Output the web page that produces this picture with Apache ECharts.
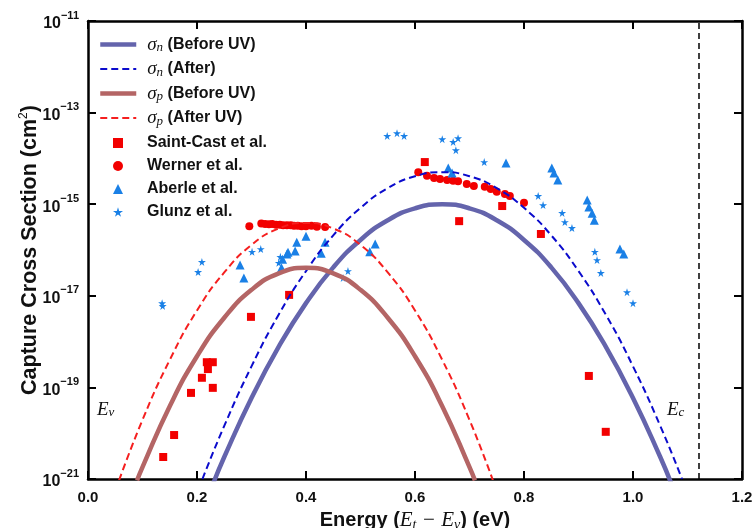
<!DOCTYPE html>
<html>
<head>
<meta charset="utf-8">
<script src="https://cdn.jsdelivr.net/npm/echarts@6/dist/echarts.min.js"></script>
<style>
  body { margin: 0; background: #fff; }
  #chart { width: 756px; height: 528px; }
</style>
</head>
<body>
<div id="chart"></div>
<script>
// energies in eV, cross sections given as log10(cm^2)
const snBeforeX = [0.23, 0.25, 0.30, 0.35, 0.40, 0.45, 0.50, 0.55, 0.60, 0.65, 0.70, 0.75, 0.80, 0.85, 0.90, 0.95, 1.00, 1.05, 1.07]
const snBeforeExp = [-21.09, -20.52, -19.23, -18.11, -17.16, -16.38, -15.78, -15.35, -15.09, -15.0, -15.09, -15.35, -15.78, -16.38, -17.16, -18.11, -19.23, -20.52, -21.09]
const snAfterX = [0.21, 0.25, 0.30, 0.35, 0.40, 0.45, 0.50, 0.55, 0.60, 0.65, 0.70, 0.75, 0.80, 0.85, 0.90, 0.95, 1.00, 1.05, 1.09]
const snAfterExp = [-21.0, -19.84, -18.54, -17.41, -16.46, -15.68, -15.08, -14.65, -14.39, -14.3, -14.39, -14.65, -15.08, -15.68, -16.46, -17.41, -18.54, -19.84, -21.0]
const spBeforeX = [0.09, 0.10, 0.15, 0.20, 0.25, 0.30, 0.35, 0.40, 0.45, 0.50, 0.55, 0.60, 0.65, 0.70, 0.71]
const spBeforeExp = [-21.03, -20.74, -19.41, -18.32, -17.48, -16.87, -16.51, -16.39, -16.51, -16.87, -17.48, -18.32, -19.41, -20.74, -21.03]
const spAfterX = [0.057, 0.10, 0.15, 0.20, 0.25, 0.30, 0.35, 0.40, 0.45, 0.50, 0.55, 0.60, 0.65, 0.70, 0.743]
const spAfterExp = [-21.03, -19.71, -18.40, -17.32, -16.49, -15.89, -15.53, -15.41, -15.53, -15.89, -16.49, -17.32, -18.40, -19.71, -21.03]

const saintCast = [[0.138, -20.52], [0.158, -20.04], [0.189, -19.12], [0.209, -18.79], [0.218, -18.45], [0.229, -18.45],
  [0.220, -18.60], [0.229, -19.01], [0.299, -17.46], [0.369, -16.98], [0.618, -14.08], [0.681, -15.37],
  [0.760, -15.04], [0.831, -15.65], [0.919, -18.75], [0.950, -19.97]]
const werner = [[0.296, -15.48], [0.318, -15.42], [0.325, -15.43], [0.332, -15.44], [0.338, -15.43], [0.345, -15.45],
  [0.352, -15.45], [0.358, -15.46], [0.365, -15.46], [0.372, -15.46], [0.378, -15.47], [0.385, -15.47],
  [0.392, -15.48], [0.400, -15.48], [0.410, -15.47], [0.420, -15.49], [0.435, -15.50],
  [0.606, -14.30], [0.622, -14.38], [0.635, -14.43], [0.646, -14.45], [0.659, -14.47], [0.670, -14.49],
  [0.679, -14.50], [0.695, -14.56], [0.708, -14.60], [0.728, -14.62], [0.739, -14.67], [0.750, -14.73],
  [0.765, -14.78], [0.774, -14.82], [0.800, -14.97]]
const aberle = [[0.279, -16.33], [0.286, -16.61], [0.355, -16.39], [0.357, -16.20], [0.365, -16.09], [0.367, -16.05],
  [0.380, -16.02], [0.383, -15.83], [0.400, -15.70], [0.435, -15.83], [0.428, -16.07], [0.517, -16.04],
  [0.527, -15.87], [0.661, -14.21], [0.668, -14.32], [0.767, -14.10], [0.851, -14.21], [0.855, -14.32],
  [0.862, -14.47], [0.916, -14.91], [0.919, -15.06], [0.925, -15.20], [0.929, -15.35], [0.976, -15.98],
  [0.983, -16.09]]
const glunz = [[0.136, -17.16], [0.137, -17.22], [0.202, -16.48], [0.209, -16.26], [0.301, -16.04], [0.317, -15.98],
  [0.350, -16.28], [0.353, -16.15], [0.468, -16.61], [0.477, -16.46], [0.549, -13.51], [0.567, -13.45],
  [0.580, -13.51], [0.650, -13.58], [0.670, -13.64], [0.679, -13.56], [0.675, -13.82], [0.727, -14.08],
  [0.826, -14.82], [0.835, -15.02], [0.870, -15.19], [0.875, -15.39], [0.888, -15.52], [0.930, -16.04],
  [0.934, -16.22], [0.941, -16.50], [0.989, -16.92], [1.000, -17.16]]

const bandGap = 1.12
const yTicks = [1e-21, 1e-19, 1e-17, 1e-15, 1e-13, 1e-11]
const lineNames = ['σn (Before UV)', 'σn (After)', 'σp (Before UV)', 'σp (After UV)']
const pointNames = ['Saint-Cast et al.', 'Werner et al.', 'Aberle et al.', 'Glunz et al.']

const starPath = 'path://M50,0 L61,35 L98,35 L68,57 L79,91 L50,70 L21,91 L32,57 L2,35 L39,35 Z'

function curve (xs, exps) {
  return xs.map((x, i) => [x, Math.pow(10, exps[i])])
}
function pts (arr) {
  return arr.map(p => [p[0], Math.pow(10, p[1])])
}

const mathRich = {
  m: { fontFamily: 'Liberation Serif', fontStyle: 'italic', fontSize: 19, lineHeight: 20, verticalAlign: 'middle' },
  sub: { fontFamily: 'Liberation Serif', fontStyle: 'italic', fontSize: 13, lineHeight: 14, verticalAlign: 'bottom' },
  t: { fontFamily: 'Liberation Sans', fontWeight: 'bold', fontSize: 16, lineHeight: 20 }
}
function legendText (name) {
  const m = name.match(/^σ(n|p)(.*)$/)
  if (m) return '{m|σ}{sub|' + m[1] + '}{t|' + m[2] + '}'
  return '{t|' + name + '}'
}

const chart = echarts.init(document.getElementById('chart'))
const axisLine = { onZero: false, lineStyle: { color: '#000', width: 2.5 } }
const tick = { inside: true, length: 8, lineStyle: { color: '#000', width: 2 } }
function titleRich (size) {
  return {
    t: { fontFamily: 'Liberation Sans', fontWeight: 'bold', fontSize: size, lineHeight: 24, color: '#111' },
    m: { fontFamily: 'Liberation Serif', fontStyle: 'italic', fontSize: size + 1, lineHeight: 24, color: '#111' },
    sub: { fontFamily: 'Liberation Serif', fontStyle: 'italic', fontSize: 14, lineHeight: 18, verticalAlign: 'bottom', color: '#111' },
    s: { fontFamily: 'Liberation Sans', fontSize: 12, lineHeight: 24, verticalAlign: 'top', color: '#111' }
  }
}

chart.setOption({
  animation: false,
  grid: { left: 88, right: 14, top: 21, bottom: 49, outerBoundsMode: 'none', containLabel: false },
  legend: [{
    data: lineNames,
    orient: 'vertical',
    left: 93,
    top: 30,
    itemWidth: 36,
    itemHeight: 14,
    itemGap: 5,
    selectedMode: false,
    itemStyle: { opacity: 0 },
    lineStyle: { width: 'inherit' },
    formatter: legendText,
    textStyle: { color: '#111', padding: [0, 0, 0, 6], rich: mathRich }
  }, {
    data: pointNames,
    orient: 'vertical',
    left: 108,
    top: 130,
    itemWidth: 10,
    itemHeight: 10,
    itemGap: 7,
    selectedMode: false,
    formatter: legendText,
    textStyle: { color: '#111', padding: [0, 0, 0, 19], rich: mathRich }
  }],
  xAxis: [{
    type: 'value',
    min: 0,
    max: 1.2,
    interval: 0.2,
    name: '{t|Energy (}{m|E}{sub|t}{m| − E}{sub|v}{t|) (eV)}',
    nameLocation: 'middle',
    nameGap: 26,
    nameTextStyle: { rich: titleRich(20) },
    axisLine: axisLine,
    axisTick: tick,
    splitLine: { show: false },
    axisLabel: {
      margin: 11,
      color: '#111',
      fontFamily: 'Liberation Sans',
      fontWeight: 'bold',
      fontSize: 15,
      formatter: v => v.toFixed(1)
    }
  }, {
    type: 'value',
    position: 'top',
    min: 0,
    max: 1.2,
    interval: 0.2,
    axisLine: axisLine,
    axisTick: tick,
    axisLabel: { show: false },
    splitLine: { show: false }
  }],
  yAxis: [{
    type: 'log',
    logBase: 10,
    min: 1e-21,
    max: 1e-11,
    name: '{t|Capture Cross Section (cm}{s|2}{t|)}',
    nameLocation: 'middle',
    nameMoveOverlap: false,
    nameGap: 46,
    nameTextStyle: { rich: titleRich(21.5) },
    axisLine: axisLine,
    axisTick: Object.assign({ customValues: yTicks }, tick),
    splitLine: { show: false },
    axisLabel: {
      customValues: yTicks,
      margin: 9,
      color: '#111',
      formatter: function (v) {
        const e = Math.round(Math.log10(v))
        return '{b|10}{s|−' + Math.abs(e) + '}'
      },
      rich: {
        b: { fontFamily: 'Liberation Sans', fontWeight: 'bold', fontSize: 16, lineHeight: 22, verticalAlign: 'bottom' },
        s: { fontFamily: 'Liberation Sans', fontWeight: 'bold', fontSize: 11, lineHeight: 22, verticalAlign: 'top' }
      }
    }
  }, {
    type: 'log',
    logBase: 10,
    position: 'right',
    min: 1e-21,
    max: 1e-11,
    axisLine: axisLine,
    axisTick: Object.assign({ customValues: yTicks }, tick),
    axisLabel: { show: false },
    splitLine: { show: false }
  }],
  graphic: [
    { type: 'text', left: 97, top: 400, style: { rich: mathRich, text: '{m|E}{sub|v}', fill: '#111' } },
    { type: 'text', left: 667, top: 400, style: { rich: mathRich, text: '{m|E}{sub|c}', fill: '#111' } }
  ],
  series: [{
    name: lineNames[0],
    type: 'line',
    smooth: true,
    symbol: 'none',
    lineStyle: { color: '#6464ac', width: 4.5 },
    itemStyle: { color: '#6464ac' },
    data: curve(snBeforeX, snBeforeExp),
    markLine: {
      silent: true,
      symbol: 'none',
      label: { show: false },
      lineStyle: { color: '#000', type: [6, 4], width: 1.5 },
      data: [{ xAxis: bandGap }]
    }
  }, {
    name: lineNames[1],
    type: 'line',
    smooth: true,
    symbol: 'none',
    lineStyle: { color: '#0b0bcc', width: 2, type: [7, 4] },
    itemStyle: { color: '#0b0bcc' },
    data: curve(snAfterX, snAfterExp)
  }, {
    name: lineNames[2],
    type: 'line',
    smooth: true,
    symbol: 'none',
    lineStyle: { color: '#b46565', width: 4.5 },
    itemStyle: { color: '#b46565' },
    data: curve(spBeforeX, spBeforeExp)
  }, {
    name: lineNames[3],
    type: 'line',
    smooth: true,
    symbol: 'none',
    lineStyle: { color: '#f51f1f', width: 2, type: [7, 4] },
    itemStyle: { color: '#f51f1f' },
    data: curve(spAfterX, spAfterExp)
  }, {
    name: pointNames[0],
    type: 'scatter',
    symbol: 'rect',
    symbolSize: 8,
    itemStyle: { color: '#f20000', opacity: 1 },
    data: pts(saintCast)
  }, {
    name: pointNames[1],
    type: 'scatter',
    symbol: 'circle',
    symbolSize: 8,
    itemStyle: { color: '#f20000', opacity: 1 },
    data: pts(werner)
  }, {
    name: pointNames[2],
    type: 'scatter',
    symbol: 'triangle',
    symbolSize: 9,
    itemStyle: { color: '#1a80e6', opacity: 1 },
    data: pts(aberle)
  }, {
    name: pointNames[3],
    type: 'scatter',
    symbol: starPath,
    symbolSize: 8,
    itemStyle: { color: '#1a80e6', opacity: 1 },
    data: pts(glunz)
  }]
})
</script>
</body>
</html>
